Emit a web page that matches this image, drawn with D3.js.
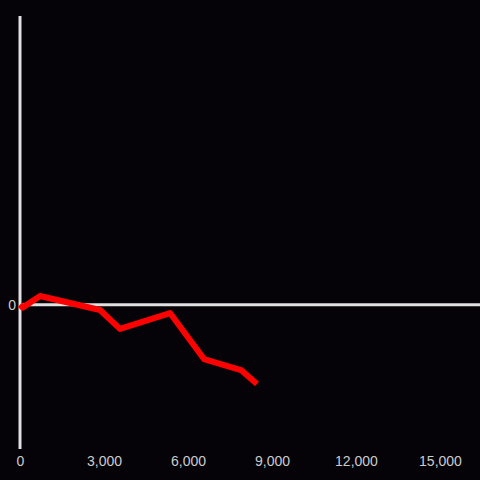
<!DOCTYPE html>
<html>
<head>
<meta charset="utf-8">
<script src="https://cdn.jsdelivr.net/npm/d3@7"></script>
<style>
  html, body { margin: 0; padding: 0; background: #050307; }
  svg { display: block; }
</style>
</head>
<body>
<script>
const xValues = [0, 100, 714, 2857, 3571, 5357, 6571, 7893, 8464];
const yValues = [0, -20, 60, -37, -168, -58, -377, -453, -550];
const xTicks = [0, 3000, 6000, 9000, 12000, 15000];
const yTicks = [0];

const width = 480;
const height = 480;

const x = d3.scaleLinear().domain([0, 16429]).range([20, 480]);
const y = d3.scaleLinear().domain([-1000, 2000]).range([449, 16]);

const svg = d3.select("body").append("svg")
  .attr("width", width)
  .attr("height", height)
  .style("background", "#050307");

// axes
svg.append("line")
  .attr("x1", x(0)).attr("x2", x(0))
  .attr("y1", y(2000)).attr("y2", y(-1000))
  .style("stroke", "#e0e0e0")
  .attr("stroke-width", 3);

svg.append("line")
  .attr("x1", x(0)).attr("x2", 480)
  .attr("y1", y(0)).attr("y2", y(0))
  .style("stroke", "#e0e0e0")
  .attr("stroke-width", 3);

const xAxis = svg.append("g")
  .attr("transform", `translate(0,${height - 19})`)
  .call(d3.axisBottom(x).tickValues(xTicks).tickSize(0).tickPadding(0).tickFormat(d3.format(",")));
xAxis.select(".domain").remove();
xAxis.selectAll("text")
  .attr("dy", ".35em")
  .style("fill", "#cccccc")
  .style("font-family", "'Liberation Sans', Arial, sans-serif")
  .style("font-size", "14px");

const yAxis = svg.append("g")
  .attr("transform", `translate(${x(0) - 4},0)`)
  .call(d3.axisLeft(y).tickValues(yTicks).tickSize(0).tickPadding(0));
yAxis.select(".domain").remove();
yAxis.selectAll("text")
  .style("fill", "#cccccc")
  .style("font-family", "'Liberation Sans', Arial, sans-serif")
  .style("font-size", "14px");

// series
const points = xValues.map((v, i) => [v, yValues[i]]);
svg.append("path")
  .datum(points)
  .attr("d", d3.line().x(d => x(d[0])).y(d => y(d[1])))
  .style("fill", "none")
  .style("stroke", "#ff0000")
  .attr("stroke-width", 6)
  .attr("stroke-linejoin", "round");
</script>
</body>
</html>
